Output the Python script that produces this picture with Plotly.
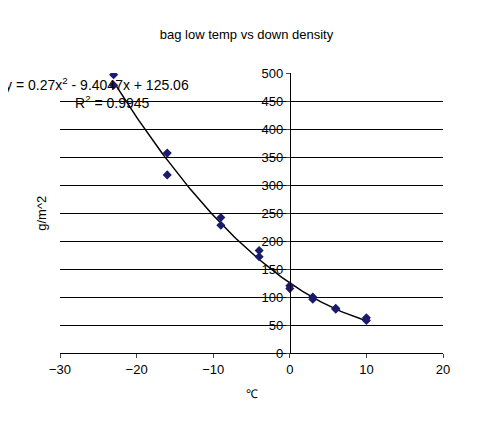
import numpy as np
import plotly.graph_objs as go

# measured points (temp in C, down density g/m^2)
temp = [-23, -23, -16, -16, -9, -9, -4, -4, 0, 0, 3, 3, 6, 6, 10, 10]
density = [497, 478, 357, 318, 242, 228, 183, 172, 120, 115, 100, 96, 80, 78, 63, 58]

# trendline coefficients shown on chart
coef = [0.27, -9.4047, 125.06]

xs = np.linspace(min(temp), max(temp), 100)
ys = np.polyval(coef, xs)

fig = go.Figure()
fig.add_trace(go.Scatter(x=xs, y=ys, mode='lines', line=dict(color='black', width=1.5),
                         showlegend=False, hoverinfo='skip'))
fig.add_trace(go.Scatter(x=temp, y=density, mode='markers', showlegend=False,
                         marker=dict(symbol='diamond', size=7, color='#1a1a6e')))

fig.update_xaxes(range=[-30, 20], dtick=10, showgrid=False, zeroline=False,
                 showline=True, linecolor='black', ticks='outside', ticklen=4,
                 title_text='℃', title_standoff=14, title_font=dict(size=12))
fig.update_yaxes(range=[0, 500], dtick=50, showgrid=True, gridcolor='black', gridwidth=1,
                 zeroline=False, showline=True, linecolor='black', ticks='outside', ticklen=4,
                 anchor='free', position=0.6, title_text='')

fig.add_annotation(text='g/m^2', textangle=-90, x=-0.075, y=0.5,
                   xref='x domain', yref='y domain', showarrow=False)
fig.add_annotation(text='y = 0.27x<sup>2</sup> - 9.4047x + 125.06', x=-0.15, y=1.0,
                   xref='x domain', yref='y domain', xanchor='left', showarrow=False,
                   font=dict(size=14))
fig.add_annotation(text='R<sup>2</sup> = 0.9945', x=0.035, y=0.935,
                   xref='x domain', yref='y domain', xanchor='left', showarrow=False,
                   font=dict(size=14))

fig.update_layout(width=477, height=433, margin=dict(l=52, r=42, t=65, b=88),
                  plot_bgcolor='white', paper_bgcolor='white',
                  font=dict(family='Liberation Sans', size=13, color='black'),
                  title=dict(text='bag low temp vs down density', x=0.5, y=0.95,
                             xanchor='center', font=dict(size=13)))

fig.write_html('out.html')
